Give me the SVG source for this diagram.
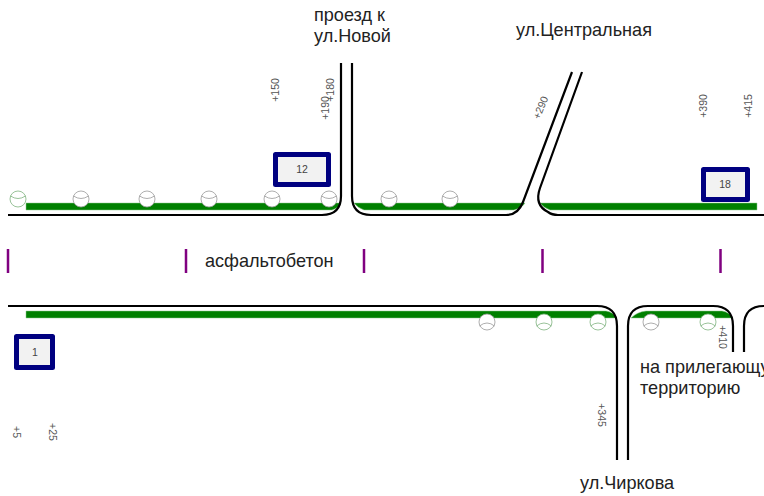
<svg xmlns="http://www.w3.org/2000/svg" width="764" height="496" viewBox="0 0 764 496">
<defs>
<style>
.road{fill:none;stroke:#000;stroke-width:2.2}
.bar{fill:#008000;stroke:#8fc98f;stroke-width:.5}
.tick{stroke:#800080;stroke-width:2.500}
.box{fill:#f2f2f2;stroke:#000080;stroke-width:5;stroke-linejoin:round}
.c{fill:#fff;stroke:#999;stroke-width:.8}
.cg{fill:#fff;stroke:#7fb27f;stroke-width:.8}
.arc{fill:none;stroke:#999;stroke-width:.8}
.arcg{fill:none;stroke:#7fb27f;stroke-width:.8}
text{font-family:"Liberation Sans",Arial,sans-serif}
.lab{font-size:18.100px;fill:#222}
.num{font-size:10.500px;fill:#555;text-anchor:middle}
.st{font-size:10.500px;fill:#444;text-anchor:middle}
</style>
<g id="up"><circle class="c" r="8"/><path class="arc" d="M-7.500-3Q0 2 7.500-3"/></g>
<g id="upg"><circle class="cg" r="8"/><path class="arcg" d="M-7.500-3Q0 2 7.500-3"/></g>
<g id="dn"><circle class="c" r="8"/><path class="arc" d="M-7.500 4Q0-2 7.500 4"/></g>
<g id="dng"><circle class="cg" r="8"/><path class="arcg" d="M-7.500 4Q0-2 7.500 4"/></g>
</defs>
<g id="markings">
<path class="bar" d="M26 203H341Q339 208 332 210H26Z"/>
<path class="bar" d="M354 203H525Q522 208 514 210H364Q358 208 354 203Z"/>
<path class="bar" d="M540 203H757V210H550Q544 208 540 203Z"/>
<path class="bar" d="M26 311H606Q613 312 617 318H26Z"/>
<path class="bar" d="M631 318Q637 312 646 311H722Q729 312 733 318Z"/>
</g>
<g id="connectors">
<path class="road" d="M8 215H322Q341 215 341 196V63"/>
<path class="road" d="M352 63V196Q352 215 371 215H506Q518 215 523 202L572 72"/>
<path class="road" d="M582 72L540 188Q534 205 548 212Q552 215 558 215H764"/>
<path class="road" d="M8 306H597Q617 306 617 326V460"/>
<path class="road" d="M628 460V326Q628 306 648 306H713Q733 306 733 326V352"/>
<path class="road" d="M744 352V326Q744 306 764 306"/>
</g>
<g id="ticks">
<path class="tick" d="M8 249V273M186 249V273M364 249V273M542.500 249V273M720.500 249V273"/>
</g>
<g id="signs-top">
<use href="#upg" x="18" y="199"/>
<use href="#up" x="81" y="199"/>
<use href="#up" x="147" y="199"/>
<use href="#up" x="209" y="199"/>
<use href="#up" x="272" y="199"/>
<use href="#up" x="329" y="199"/>
<use href="#up" x="389" y="199"/>
<use href="#up" x="450" y="199"/>
</g>
<g id="signs-bottom">
<use href="#dn" x="487" y="322"/>
<use href="#dng" x="544" y="322"/>
<use href="#dng" x="598" y="322"/>
<use href="#dn" x="651" y="322"/>
<use href="#dng" x="708" y="322"/>
</g>
<g id="node-12"><rect class="box" x="275.500" y="154.500" width="53" height="30"/><text class="st" x="302" y="173">12</text></g>
<g id="node-18"><rect class="box" x="703.500" y="169.500" width="44" height="30"/><text class="st" x="725" y="188">18</text></g>
<g id="node-1"><rect class="box" x="16.500" y="336.500" width="36" height="31"/><text class="st" x="35" y="356">1</text></g>
<g id="labels">
<text class="lab" x="314" y="21">проезд к</text>
<text class="lab" x="314" y="42">ул.Новой</text>
<text class="lab" x="516" y="36">ул.Центральная</text>
<text class="lab" x="205" y="267">асфальтобетон</text>
<text class="lab" x="640" y="373">на прилегающую</text>
<text class="lab" x="640" y="394">территорию</text>
<text class="lab" x="580" y="489">ул.Чиркова</text>
</g>
<g id="stations">
<text class="num" transform="translate(279 90) rotate(-90)">+150</text>
<text class="num" transform="translate(333.500 90) rotate(-90)">+180</text>
<text class="num" transform="translate(328.500 108) rotate(-90)">+190</text>
<text class="num" transform="translate(544 109) rotate(-68)">+290</text>
<text class="num" transform="translate(706.500 106) rotate(-90)">+390</text>
<text class="num" transform="translate(751.500 106) rotate(-90)">+415</text>
<text class="num" transform="translate(597.500 415) rotate(90)">+345</text>
<text class="num" transform="translate(719 337) rotate(90)">+410</text>
<text class="num" transform="translate(13 432) rotate(90)">+5</text>
<text class="num" transform="translate(49 432) rotate(90)">+25</text>
</g>
</svg>
